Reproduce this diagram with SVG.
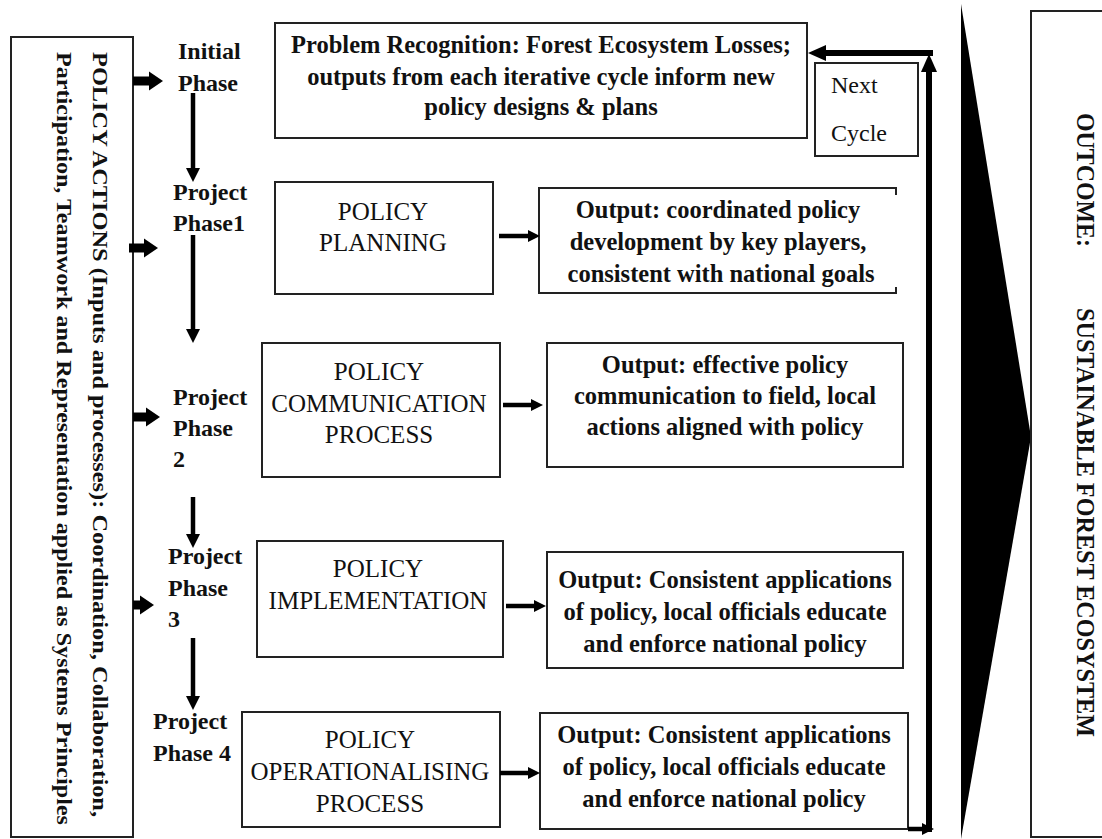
<svg xmlns="http://www.w3.org/2000/svg" width="1102" height="839" viewBox="0 0 1102 839">
<style>
.box{fill:#fff;stroke:#222;stroke-width:2}
.b{font-family:"Liberation Serif","Times New Roman",serif;font-weight:bold;font-size:24.5px;fill:#111}
.r{font-family:"Liberation Serif","Times New Roman",serif;font-size:25px;fill:#111}
.ph{font-family:"Liberation Serif","Times New Roman",serif;font-weight:bold;font-size:24px;fill:#111}
.c{text-anchor:middle}
.thin{stroke:#000;stroke-width:4.5;fill:none}
.fat{stroke:#000;stroke-width:9;fill:none}
.loop{stroke:#000;stroke-width:6;fill:none}
</style>
<defs>
<marker id="mThin" markerUnits="userSpaceOnUse" markerWidth="15" markerHeight="15" refX="0" refY="7" orient="auto" overflow="visible"><path d="M0,0 L14,7 L0,14 z" fill="#000"/></marker>
<marker id="mSm" markerUnits="userSpaceOnUse" markerWidth="13" markerHeight="13" refX="0" refY="6" orient="auto" overflow="visible"><path d="M0,0 L12,6 L0,12 z" fill="#000"/></marker>
<marker id="mFat" markerUnits="userSpaceOnUse" markerWidth="15" markerHeight="19" refX="0" refY="9.5" orient="auto" overflow="visible"><path d="M0,0 L14,9.5 L0,19 z" fill="#000"/></marker>
<marker id="mLoop" markerUnits="userSpaceOnUse" markerWidth="19" markerHeight="17" refX="0" refY="8" orient="auto" overflow="visible"><path d="M0,0 L18,8 L0,16 z" fill="#000"/></marker>
</defs>
<rect width="1102" height="839" fill="#fff"/>

<g id="policy-actions">
<rect class="box" x="11" y="37" width="122" height="800"/>
<text class="ph" transform="translate(93,52) rotate(90)" textLength="765" lengthAdjust="spacingAndGlyphs" style="font-size:22px">POLICY ACTIONS (Inputs and processes): Coordination, Collaboration,</text>
<text class="ph" transform="translate(57,52) rotate(90)" textLength="773" lengthAdjust="spacingAndGlyphs" style="font-size:22px">Participation, Teamwork and Representation applied as Systems Principles</text>
</g>

<g id="phase-initial"><text class="ph" x="178" y="59">Initial</text><text class="ph" x="178" y="91">Phase</text></g>
<g id="phase-1"><text class="ph" x="173" y="200">Project</text><text class="ph" x="173" y="231">Phase1</text></g>
<g id="phase-2"><text class="ph" x="173" y="405">Project</text><text class="ph" x="173" y="436">Phase</text><text class="ph" x="173" y="467">2</text></g>
<g id="phase-3"><text class="ph" x="168" y="564">Project</text><text class="ph" x="168" y="596">Phase</text><text class="ph" x="168" y="627">3</text></g>
<g id="phase-4"><text class="ph" x="153" y="729">Project</text><text class="ph" x="153" y="761">Phase 4</text></g>

<g id="problem">
<rect class="box" x="275" y="23" width="532" height="115"/>
<text class="b c" x="541" y="53">Problem Recognition: Forest Ecosystem Losses;</text>
<text class="b c" x="541" y="85">outputs from each iterative cycle inform new</text>
<text class="b c" x="541" y="115">policy designs &amp; plans</text>
</g>

<g id="next-cycle">
<rect class="box" x="815" y="63" width="103" height="93"/>
<text class="r" x="831" y="93" style="font-size:24px">Next</text>
<text class="r" x="831" y="141" style="font-size:24px">Cycle</text>
</g>

<g id="policy-planning">
<rect class="box" x="275" y="182" width="218" height="112"/>
<text class="r c" x="383" y="220">POLICY</text>
<text class="r c" x="383" y="251">PLANNING</text>
</g>
<g id="output-1">
<path d="M896,195 L896,188 L539,188 L539,293 L896,293 L896,287" fill="#fff" stroke="#222" stroke-width="2"/>
<text class="b c" x="718" y="218">Output: coordinated policy</text>
<text class="b c" x="718" y="250">development by key players,</text>
<text class="b c" x="721" y="282">consistent with national goals</text>
</g>

<g id="policy-communication">
<rect class="box" x="262" y="343" width="238" height="134"/>
<text class="r c" x="379" y="380">POLICY</text>
<text class="r c" x="379" y="412">COMMUNICATION</text>
<text class="r c" x="379" y="443">PROCESS</text>
</g>
<g id="output-2">
<rect class="box" x="547" y="343" width="356" height="124"/>
<text class="b c" x="725" y="373">Output: effective policy</text>
<text class="b c" x="725" y="404">communication to field, local</text>
<text class="b c" x="725" y="435">actions aligned with policy</text>
</g>

<g id="policy-implementation">
<rect class="box" x="257" y="541" width="246" height="116"/>
<text class="r c" x="378" y="577">POLICY</text>
<text class="r c" x="378" y="609">IMPLEMENTATION</text>
</g>
<g id="output-3">
<rect class="box" x="547" y="552" width="356" height="116"/>
<text class="b c" x="725" y="588">Output: Consistent applications</text>
<text class="b c" x="725" y="620">of policy, local officials educate</text>
<text class="b c" x="725" y="652">and enforce national policy</text>
</g>

<g id="policy-operationalising">
<rect class="box" x="242" y="712" width="258" height="115"/>
<text class="r c" x="370" y="748">POLICY</text>
<text class="r c" x="370" y="780">OPERATIONALISING</text>
<text class="r c" x="370" y="812">PROCESS</text>
</g>
<g id="output-4">
<rect class="box" x="540" y="713" width="368" height="116"/>
<text class="b c" x="724" y="743">Output: Consistent applications</text>
<text class="b c" x="724" y="775">of policy, local officials educate</text>
<text class="b c" x="724" y="807">and enforce national policy</text>
</g>

<g id="outcome">
<polygon points="961,4 1031,437 961,839" fill="#000"/>
<rect class="box" x="1031" y="11" width="75" height="826"/>
<text class="ph" transform="translate(1077,113) rotate(90)" textLength="134" lengthAdjust="spacingAndGlyphs" style="font-size:26px">OUTCOME:</text>
<text class="ph" transform="translate(1077,308) rotate(90)" textLength="429" lengthAdjust="spacingAndGlyphs" style="font-size:26px">SUSTAINABLE FOREST ECOSYSTEM</text>
</g>

<g id="connectors">
<line class="fat" x1="133" y1="81" x2="149" y2="81" marker-end="url(#mFat)"/>
<line class="fat" x1="129" y1="248" x2="144" y2="248" marker-end="url(#mFat)"/>
<line class="fat" x1="133" y1="417" x2="146" y2="417" marker-end="url(#mFat)"/>
<line class="fat" x1="133" y1="605" x2="140" y2="605" marker-end="url(#mFat)"/>

<line class="thin" x1="193" y1="93" x2="193" y2="168" marker-end="url(#mThin)"/>
<line class="thin" x1="193" y1="235" x2="193" y2="329" marker-end="url(#mThin)"/>
<line class="thin" x1="193" y1="497" x2="193" y2="534" marker-end="url(#mThin)"/>
<line class="thin" x1="193" y1="638" x2="193" y2="696" marker-end="url(#mThin)"/>

<line class="thin" x1="499" y1="236" x2="528" y2="236" marker-end="url(#mSm)"/>
<line class="thin" x1="503" y1="405" x2="531" y2="405" marker-end="url(#mSm)"/>
<line class="thin" x1="506" y1="606" x2="534" y2="606" marker-end="url(#mSm)"/>
<line class="thin" x1="500" y1="773" x2="528" y2="773" marker-end="url(#mSm)"/>

<line class="thin" x1="908" y1="829" x2="922" y2="829" marker-end="url(#mSm)"/>
<line class="loop" x1="929" y1="832" x2="929" y2="72" marker-end="url(#mLoop)"/>
<line class="loop" x1="933" y1="53" x2="826" y2="53" marker-end="url(#mLoop)"/>
</g>
</svg>
